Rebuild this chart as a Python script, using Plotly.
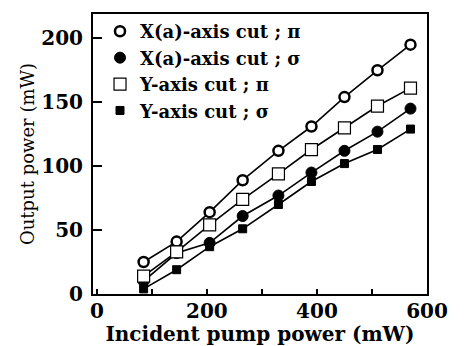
import plotly.graph_objects as go

pump = [85, 145, 205, 265, 330, 390, 450, 510, 570]
x_pi = [25, 41, 64, 89, 112, 131, 154, 175, 195]
x_sigma = [10, 32, 40, 61, 77, 95, 112, 127, 145]
y_pi = [14, 33, 54, 74, 94, 113, 130, 147, 161]
y_sigma = [4, 19, 37, 51, 70, 88, 102, 113, 129]

names = ["X(a)-axis cut ; π", "X(a)-axis cut ; σ", "Y-axis cut ; π", "Y-axis cut ; σ"]
series = [x_pi, x_sigma, y_pi, y_sigma]
markers = [
    dict(symbol="circle", size=10, color="white", line=dict(color="black", width=2.5)),
    dict(symbol="circle", size=11, color="black", line=dict(color="black", width=1)),
    dict(symbol="square", size=12, color="white", line=dict(color="black", width=1.2)),
    dict(symbol="square", size=8, color="black", line=dict(color="black", width=1)),
]

fig = go.Figure()
for n, s, m in zip(names, series, markers):
    fig.add_trace(go.Scatter(x=pump, y=s, mode="lines+markers", name=n,
                             line=dict(color="black", width=1.6), marker=m,
                             showlegend=False))
for n, m in zip(names, markers):
    fig.add_trace(go.Scatter(x=[None], y=[None], mode="markers", name=n, marker=m))

axis_font = dict(family="DejaVu Serif", size=20, color="black", weight="bold")
fig.update_layout(
    width=456, height=338,
    margin=dict(l=85, r=37, t=6, b=52, autoexpand=False),
    paper_bgcolor="white", plot_bgcolor="white",
    legend=dict(x=0.021, y=0.985, xanchor="left", yanchor="top", yref="container",
                bgcolor="rgba(0,0,0,0)", tracegroupgap=0,
                font=dict(family="DejaVu Serif", size=18, color="black", weight="bold")),
    xaxis=dict(range=[-7, 600], tickvals=[0, 200, 400, 600], ticks="inside", ticklen=5,
               tickwidth=1.5, tickcolor="black", ticklabelstandoff=-2, automargin=False,
               minor=dict(dtick=100, ticks="inside", ticklen=5, tickwidth=1.5, tickcolor="black"),
               showline=True, linecolor="black", linewidth=2, mirror=True,
               showgrid=False, zeroline=False, tickfont=axis_font,
               title=dict(text="Incident pump power (mW)", standoff=0,
                          font=dict(family="DejaVu Serif", size=20, color="black", weight="bold"))),
    yaxis=dict(range=[0, 219], tickvals=[0, 50, 100, 150, 200], ticks="inside", ticklen=9,
               tickwidth=1.5, tickcolor="black", ticklabelstandoff=4, automargin=False,
               showline=True, linecolor="black", linewidth=2, mirror=True,
               showgrid=False, zeroline=False, tickfont=axis_font,
               title=dict(text="Output power (mW)", standoff=2,
                          font=dict(family="DejaVu Serif", size=18, color="black"))),
)
fig.write_html("out.html")
